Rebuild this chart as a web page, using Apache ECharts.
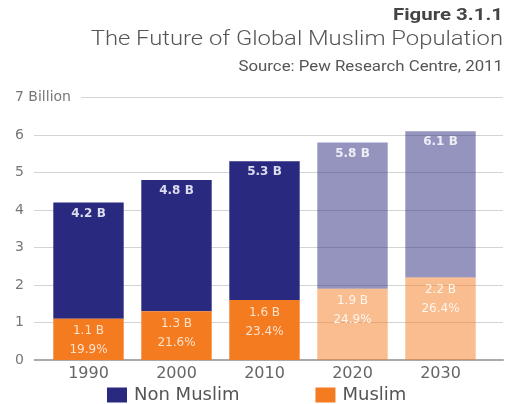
<!DOCTYPE html>
<html><head><meta charset="utf-8">
<script src="https://cdn.jsdelivr.net/npm/echarts@6/dist/echarts.min.js"></script>
<style>html,body{margin:0;padding:0;background:#fff}#c{width:505px;height:404px}</style>
</head><body><div id="c"></div>
<script>
var years = ['1990', '2000', '2010', '2020', '2030'];
var nonMuslim = [4.2, 4.8, 5.3, 5.8, 6.1];
var muslim = [1.1, 1.3, 1.6, 1.9, 2.2];
var muslimPct = [19.9, 21.6, 23.4, 24.9, 26.4];
var projected = [false, false, false, true, true];

var NAVY = '#29297f', ORANGE = '#f47b20';
var FONT = 'DejaVu Sans';

// Non-Muslim bar is drawn from the top of the Muslim bar up to the non-Muslim value
function items(vals, base, projLabelColor) {
  return vals.map(function (v, i) {
    var val = base ? +(v - base[i]).toFixed(2) : v;
    return projected[i]
      ? { value: val, itemStyle: { opacity: 0.5 }, label: { opacity: 1, color: projLabelColor } }
      : { value: val };
  });
}

var chart = echarts.init(document.getElementById('c'), null, { renderer: 'canvas' });
chart.setOption({
  animation: false,
  textStyle: { fontFamily: FONT },
  graphic: [
    { type: 'text', x: 503, y: 7, scaleX: 1.2, style: { text: 'Figure 3.1.1', font: 'bold 17px Roboto', fill: '#444', textAlign: 'right' } },
    { type: 'text', x: 503, y: 30, scaleX: 1.19, style: { text: 'The Future of Global Muslim Population', font: '300 20px Roboto', fill: '#555', textAlign: 'right' } },
    { type: 'text', x: 503, y: 60, scaleX: 1.2, style: { text: 'Source: Pew Research Centre, 2011', font: '14px Roboto', fill: '#555', textAlign: 'right' } }
  ],
  legend: {
    top: 386, left: 107, padding: 0,
    itemWidth: 20, itemHeight: 15, itemGap: 76,
    icon: 'rect',
    textStyle: { fontSize: 18, color: '#555', fontFamily: FONT, padding: [0, 0, 0, 2] },
    data: ['Non Muslim', 'Muslim']
  },
  grid: [
    { left: 34, right: 2, top: 97.5, bottom: 44 },
    { left: 44.5, right: 20.5, top: 97.5, bottom: 44 }
  ],
  xAxis: [
    { gridIndex: 0, type: 'value', min: 0, max: 1, axisLine: { show: true, lineStyle: { color: '#aaa', width: 2 } },
      axisTick: { show: false }, axisLabel: { show: false }, splitLine: { show: false } },
    { gridIndex: 1, type: 'category', data: years, axisLine: { show: false }, axisTick: { show: false },
      axisLabel: { margin: 6, fontSize: 16, color: '#666', fontFamily: FONT } }
  ],
  yAxis: [
    { gridIndex: 0, type: 'value', min: 0, max: 7, interval: 1,
      axisLine: { show: false }, axisTick: { show: false },
      splitLine: { lineStyle: { color: '#d4d4d4', width: 1.2 } },
      axisLabel: { align: 'left', margin: 19, fontSize: 14, color: '#777', fontFamily: FONT,
        backgroundColor: '#fff', padding: [0, 10, 0, 0],
        formatter: function (v) { return v === 7 ? '7 Billion' : String(v); } } },
    { gridIndex: 1, type: 'value', min: 0, max: 7, interval: 1, show: false }
  ],
  series: [
    { name: 'Muslim', type: 'bar', xAxisIndex: 1, yAxisIndex: 1, barWidth: '80%', stack: 'pop',
      itemStyle: { color: ORANGE }, data: items(muslim, null, '#fff6ef'), z: 4,
      label: { show: true, position: 'insideTop', distance: 3, fontSize: 12, lineHeight: 19, color: '#fde2cc', fontFamily: FONT,
        formatter: function (p) { return muslim[p.dataIndex] + ' B\n' + muslimPct[p.dataIndex] + '%'; } } },
    { name: 'Non Muslim', type: 'bar', xAxisIndex: 1, yAxisIndex: 1, barWidth: '80%', stack: 'pop',
      itemStyle: { color: NAVY }, data: items(nonMuslim, muslim, '#eeeef6'), z: 3,
      label: { show: true, position: 'insideTop', distance: 5, fontSize: 12, fontWeight: 'bold', color: '#dcdcf0', fontFamily: FONT,
        formatter: function (p) { return nonMuslim[p.dataIndex] + ' B'; } } }
  ]
});
</script></body></html>
